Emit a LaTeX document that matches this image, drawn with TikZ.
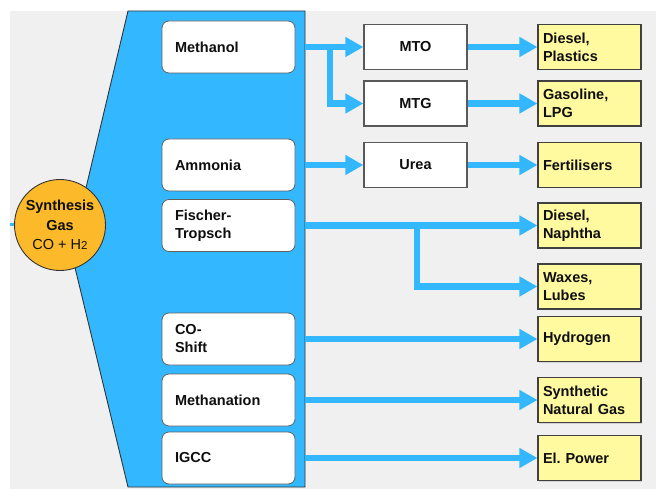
\documentclass[tikz,border=0pt]{standalone}
\usepackage{fontspec}
\setmainfont{Liberation Sans}
\usetikzlibrary{arrows.meta,shadows}
\definecolor{bgray}{RGB}{240,240,240}
\definecolor{flowblue}{RGB}{51,184,255}
\definecolor{synorange}{RGB}{252,185,42}
\definecolor{prodyellow}{RGB}{255,250,160}
\definecolor{txt}{RGB}{15,15,15}
\frenchspacing
\tikzset{
  lbl/.style={font=\fontsize{14.5}{18}\selectfont\bfseries, text=txt},
  lbox/.style={lbl, rounded corners=7pt, draw=gray!75!black, line width=0.8pt, fill=white,
     minimum height=52pt, text width=107pt, inner xsep=13pt, align=left},
  mbox/.style={lbl, draw=gray!70!black, line width=1.3pt, fill=white,
     minimum width=103pt, minimum height=45pt, align=center},
  ybox/.style={lbl, draw=black!75, line width=1.1pt, fill=prodyellow,
     text width=93pt, inner xsep=5pt, minimum height=45pt, align=left,
     drop shadow={shadow xshift=1pt, shadow yshift=-1pt, opacity=0.25}},
  flow/.style={draw=flowblue, line width=6.5pt, line join=miter,
     -{Triangle[length=18pt,width=19pt]}},
}
\begin{document}
\begin{tikzpicture}[x=1pt,y=-1pt]
\useasboundingbox (0,0) rectangle (656,489);
\fill[white] (0,0) rectangle (656,489);
\fill[bgray] (10,11) rectangle (656,489);
% blue collector shape
\filldraw[fill=flowblue, draw=black!80, line width=0.9pt]
  (128,11) -- (305,11) -- (305,487) -- (128,487) -- (71,251) -- cycle;
% coordinates for connector ends
\coordinate (edge) at (305,0);
\coordinate (br1) at (330,0);
\coordinate (br2) at (417,0);
\coordinate (inlet) at (10,225);
% synthesis gas
\node[circle, draw=black!80, line width=0.9pt, fill=synorange, minimum size=91pt,
      inner sep=0pt, align=center, text=txt, font=\fontsize{14.5}{19.5}\selectfont]
  (syn) at (60,225) {\bfseries Synthesis\\\bfseries Gas\\CO + H{\fontsize{11.5}{12}\selectfont 2}};
\draw[flowblue, line width=3pt] (inlet) -- (syn);
% process boxes
\node[lbox] (meth) at (228.5,47) {Methanol};
\node[lbox] (amm) at (228.5,165) {Ammonia};
\node[lbox] (ft) at (228.5,225.5) {Fischer-\\Tropsch};
\node[lbox] (cos) at (228.5,339) {CO-\\Shift};
\node[lbox] (mtn) at (228.5,400) {Methanation};
\node[lbox] (igcc) at (228.5,458) {IGCC};
% intermediate boxes
\node[mbox] (mto) at (415.5,47) {MTO};
\node[mbox] (mtg) at (415.5,103.5) {MTG};
\node[mbox] (urea) at (415.5,165) {Urea};
% products
\node[ybox] (dp) at (589.5,47) {Diesel,\\Plastics};
\node[ybox] (gl) at (589.5,103.5) {Gasoline,\\LPG};
\node[ybox] (fert) at (589.5,165) {Fertilisers};
\node[ybox] (dn) at (589.5,225.5) {Diesel,\\Naphtha};
\node[ybox] (wl) at (589.5,286.5) {Waxes,\\Lubes};
\node[ybox] (hyd) at (589.5,339) {Hydrogen};
\node[ybox] (sng) at (589.5,400) {Synthetic\\Natural Gas};
\node[ybox] (elp) at (589.5,458) {El. Power};
% flows
\draw[flow] (meth -| edge) -- (mto);
\draw[flow] (meth -| br1) |- (mtg);
\draw[flow] (mto) -- (dp);
\draw[flow] (mtg) -- (gl);
\draw[flow] (amm -| edge) -- (urea);
\draw[flow] (urea) -- (fert);
\draw[flow] (ft -| edge) -- (dn);
\draw[flow] (ft -| br2) |- (wl);
\draw[flow] (cos -| edge) -- (hyd);
\draw[flow] (mtn -| edge) -- (sng);
\draw[flow] (igcc -| edge) -- (elp);
\end{tikzpicture}
\end{document}
